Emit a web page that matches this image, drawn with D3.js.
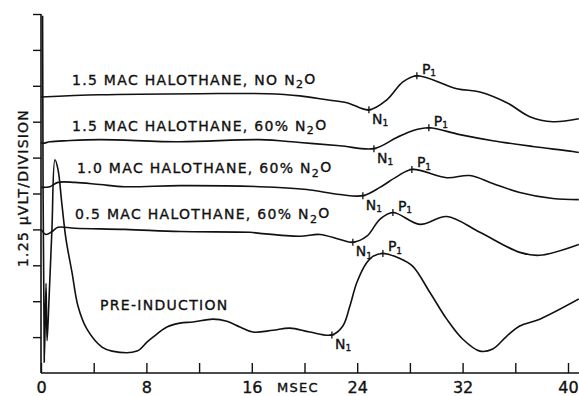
<!DOCTYPE html>
<html>
<head>
<meta charset="utf-8">
<script src="https://cdn.jsdelivr.net/npm/d3@7"></script>
<style>
  body { margin: 0; background: #fff; }
  svg { display: block; }
  text { font-family: "DejaVu Sans", sans-serif; fill: #111; stroke: #111; stroke-width: 0.35px; }
</style>
</head>
<body>
<div id="chart"></div>
<script>
// time in msec, amplitude in divisions (1.25 uV each), traces stacked as recorded
const traceNames = [
  "1.5 MAC HALOTHANE, NO N2O",
  "1.5 MAC HALOTHANE, 60% N2O",
  "1.0 MAC HALOTHANE, 60% N2O",
  "0.5 MAC HALOTHANE, 60% N2O",
  "PRE-INDUCTION"
]

const halo15NoN2oMs  = [0, 4.48, 12.06, 17.15, 19.65, 21.70, 23.22, 24.89, 26.25, 27.47, 28.53, 31.56, 33.31, 35.36, 37.10, 38.85, 40.82]
const halo15NoN2oDiv = [7.69, 7.75, 7.78, 7.78, 7.72, 7.61, 7.53, 7.33, 7.61, 8.11, 8.28, 7.92, 7.83, 7.53, 7.14, 7.00, 7.08]

const halo15N2oMs  = [0, 0.15, 0.68, 1.97, 4.48, 10.55, 16.62, 19.65, 22.69, 25.27, 27.01, 28.22, 29.44, 31.79, 34.29, 37.33, 40.36, 40.82]
const halo15N2oDiv = [6.42, 6.40, 6.44, 6.47, 6.50, 6.44, 6.50, 6.42, 6.33, 6.25, 6.56, 6.75, 6.83, 6.64, 6.47, 6.31, 6.17, 6.14]

const halo10N2oMs  = [0, 0.68, 1.29, 2.58, 4.48, 6.37, 10.55, 16.62, 20.18, 22.69, 24.43, 25.72, 27.01, 28.15, 30.80, 32.55, 34.29, 36.34, 38.85, 40.82]
const halo10N2oDiv = [5.17, 5.19, 5.31, 5.31, 5.25, 5.19, 5.22, 5.19, 5.11, 4.97, 4.94, 5.17, 5.47, 5.67, 5.44, 5.50, 5.28, 5.03, 4.86, 4.83]

const halo05N2oMs  = [0, 0.38, 0.83, 1.29, 2.58, 6.37, 10.55, 15.86, 16.62, 19.65, 21.17, 22.69, 23.67, 24.73, 25.72, 26.71, 28.76, 30.80, 33.31, 36.34, 37.86, 40.82]
const halo05N2oDiv = [4.00, 3.86, 3.94, 4.06, 4.03, 4.00, 3.94, 3.92, 3.89, 3.81, 3.86, 3.72, 3.64, 3.81, 4.28, 4.47, 4.14, 4.36, 3.92, 3.36, 3.28, 3.58]

const preInductionMs  = [0.12, 0.25, 0.38, 0.46, 0.61, 0.83, 1.06, 1.29, 1.59, 1.90, 2.35, 2.81, 3.49, 4.63, 5.39, 7.28, 8.04, 8.50, 9.56, 10.55, 11.53, 13.05, 14.11, 15.10, 16.08, 17.60, 18.89, 20.41, 22.08, 22.91, 23.44, 23.98, 24.73, 25.19, 25.95, 27.24, 28.22, 29.51, 30.80, 32.02, 33.31, 34.29, 35.36, 36.34, 37.86, 40.82]
const preInductionDiv = [9.95, 0.30, 2.50, 0.90, 2.06, 4.00, 5.94, 5.67, 4.69, 3.72, 2.81, 1.86, 1.22, 0.72, 0.61, 0.61, 0.86, 1.00, 1.28, 1.39, 1.42, 1.50, 1.44, 1.28, 1.14, 1.19, 1.25, 1.14, 1.06, 1.31, 1.86, 2.53, 3.08, 3.25, 3.33, 3.19, 2.97, 2.25, 1.50, 0.94, 0.61, 0.67, 1.03, 1.31, 1.50, 2.06]

// latency of N1 and P1 peaks, msec
const n1Ms = [24.89, 25.27, 24.43, 23.67, 22.08]
const p1Ms = [28.53, 29.44, 28.15, 26.71, 25.95]

const xTicks = d3.range(0, 41, 4)
const xTickLabels = [0, 8, 16, 24, 32, 40]
const yTicks = d3.range(1, 11)

// where each trace caption sits (msec, div)
const captionAt = [[2.35, 8.03], [2.35, 6.75], [2.73, 5.56], [2.58, 4.28], [4.48, 1.75]]

const traces = [
  [halo15NoN2oMs, halo15NoN2oDiv],
  [halo15N2oMs, halo15N2oDiv],
  [halo10N2oMs, halo10N2oDiv],
  [halo05N2oMs, halo05N2oDiv],
  [preInductionMs, preInductionDiv]
].map(([ms, dv], i) => ({
  name: traceNames[i],
  points: ms.map((t, j) => ({ t: t, v: dv[j] })),
  n1: n1Ms[i],
  p1: p1Ms[i]
}))

const width = 579, height = 396

const x = d3.scaleLinear().domain([0, 40]).range([41, 568])
const y = d3.scaleLinear().domain([0, 10]).range([373, 14])

const svg = d3.select("#chart").append("svg")
  .attr("width", width)
  .attr("height", height)

// axes
svg.append("line")
  .attr("x1", x(0)).attr("x2", width)
  .attr("y1", y(0)).attr("y2", y(0))
  .attr("stroke", "#111").attr("stroke-width", 1.6)

svg.append("line")
  .attr("x1", x(0)).attr("x2", x(0))
  .attr("y1", y(0)).attr("y2", y(10))
  .attr("stroke", "#111").attr("stroke-width", 1.6)

const xAxis = svg.append("g")
  .attr("transform", "translate(0," + y(0) + ")")
  .call(d3.axisBottom(x)
    .tickValues(xTicks)
    .tickSizeInner(-10)
    .tickSizeOuter(0)
    .tickPadding(9)
    .tickFormat(d => xTickLabels.includes(d) ? d : ""))
xAxis.select(".domain").remove()
xAxis.selectAll("line").attr("stroke", "#111").attr("stroke-width", 1.4)
xAxis.selectAll("text")
  .style("font-family", "DejaVu Sans, sans-serif")
  .style("font-size", "16px")
  .attr("fill", "#111")

const yAxis = svg.append("g")
  .attr("transform", "translate(" + x(0) + ",0)")
  .call(d3.axisLeft(y).tickValues(yTicks).tickSize(8).tickFormat(""))
yAxis.select(".domain").remove()
yAxis.selectAll("line").attr("stroke", "#111").attr("stroke-width", 1.4)

svg.append("text")
  .attr("transform", "translate(28,188) rotate(-90)")
  .attr("text-anchor", "middle")
  .style("font-size", "14px")
  .style("letter-spacing", "1.2px")
  .text("1.25 \u03bcVLT/DIVISION")

svg.append("text")
  .attr("x", 277).attr("y", 392)
  .style("font-size", "13px")
  .style("letter-spacing", "1.3px")
  .text("MSEC")

// traces
const line = d3.line()
  .x(d => x(d.t))
  .y(d => y(d.v))
  .curve(d3.curveCatmullRom.alpha(0.5))

svg.append("g").selectAll("path")
  .data(traces)
  .join("path")
    .attr("d", d => line(d.points))
    .attr("fill", "none")
    .attr("stroke", "#111")
    .attr("stroke-width", 1.6)

// captions, N2O with subscript 2
svg.append("g").selectAll("text")
  .data(traces)
  .join("text")
    .attr("x", (d, i) => x(captionAt[i][0]))
    .attr("y", (d, i) => y(captionAt[i][1]))
    .style("font-size", "14px")
    .style("letter-spacing", "1.3px")
    .each(function(d) {
      const t = d3.select(this)
      const parts = d.name.split("N2O")
      t.append("tspan").text(parts[0])
      if (parts.length > 1) {
        t.append("tspan").text("N")
        t.append("tspan").attr("dy", "0.3em").style("font-size", "11px").text("2")
        t.append("tspan").attr("dy", "-0.3em").text("O")
      }
    })

// peak markers
const valueAt = (d, t) => d.points.find(p => p.t === t).v

const marks = []
traces.forEach(d => {
  marks.push({ t: d.n1, v: valueAt(d, d.n1), kind: "N" })
  marks.push({ t: d.p1, v: valueAt(d, d.p1), kind: "P" })
})

const mk = svg.append("g").selectAll("g")
  .data(marks)
  .join("g")
    .attr("transform", d => "translate(" + x(d.t) + "," + y(d.v) + ")")

mk.append("path")
  .attr("d", "M0,-3.5V3.5M-2.5,0H2.5")
  .attr("stroke", "#111")
  .attr("stroke-width", 1.3)

const mkText = mk.append("text")
  .attr("x", d => d.kind === "N" ? 3 : 5)
  .attr("y", d => d.kind === "N" ? 14 : -2)
  .style("font-size", "14px")
mkText.append("tspan").text(d => d.kind)
mkText.append("tspan").attr("dy", "0.25em").style("font-size", "9px").text("1")
</script>
</body>
</html>
